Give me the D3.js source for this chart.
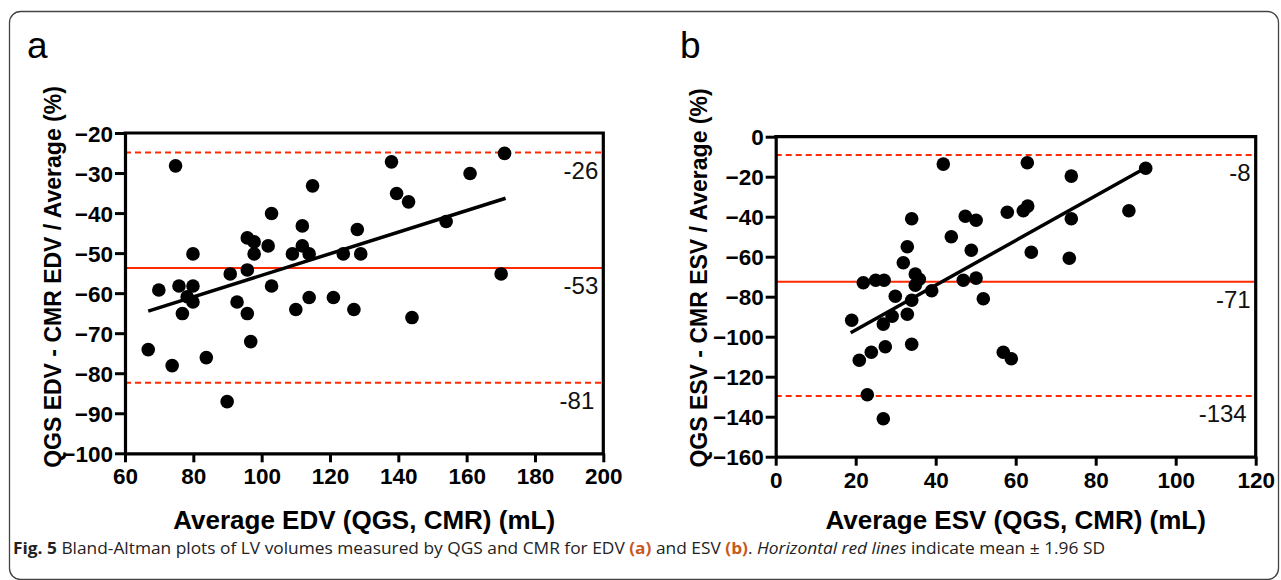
<!DOCTYPE html>
<html><head><meta charset="utf-8">
<script src="https://cdn.jsdelivr.net/npm/d3@7"></script>
<style>
html,body{margin:0;padding:0;background:#fff;}
svg{display:block;}
</style></head>
<body>
<svg id="c" width="1281" height="580"></svg>
<script>
// ---- Data ----
const edvX = [74.8,66.8,73.8,69.9,75.8,79.9,79.9,78.2,79.9,76.8,83.8,89.9,90.8,92.8,95.8,95.8,96.8,95.8,97.8,97.8,101.9,102.9,102.9,109,110,111.9,111.9,113.9,113.9,114.9,121,123.9,127,128,129,138,139.5,143,144,154,161,171.1,170.1];
const edvY = [-28.2,-74.1,-78.1,-59.2,-58.2,-58.2,-50.2,-60.9,-62.2,-65.1,-76.1,-87.1,-55.2,-62.2,-54.2,-65.1,-72.1,-46.2,-47.2,-50.2,-48.2,-40.1,-58.2,-50.2,-64.1,-43.2,-48.2,-50.2,-61.1,-33.2,-61.1,-50.2,-64.1,-44.1,-50.2,-27.2,-35.1,-37.2,-66.1,-42.1,-30.1,-25.1,-55.2];
const esvX = [41.9,62.9,73.9,92.5,88.3,73.9,73.4,63.9,57.9,61.9,63,47.4,50.1,43.9,48.9,34,32.9,31.9,34.9,35.9,34.9,21.9,25,27.1,46.9,50.1,39,51.9,29.9,34,19,29.1,26.9,32.9,20.9,23.9,27.4,34,22.9,26.9,56.9,58.9];
const esvY = [-13.7,-13,-19.7,-15.8,-37,-41,-60.8,-57.8,-37.8,-37,-34.7,-39.8,-41.8,-50,-56.8,-41,-55,-63,-68.7,-71.3,-74.3,-73,-71.8,-71.8,-71.8,-70.7,-77,-81,-79.8,-81.8,-91.8,-89.8,-93.7,-88.8,-111.8,-107.8,-105,-103.8,-129,-141,-107.8,-111];
const edvLimits = [-24.9,-53.7,-82.4];
const edvLimitLabels = ["-26","-53","-81"];
const esvLimits = [-9.2,-72.5,-129.7];
const esvLimitLabels = ["-8","-71","-134"];
const edvFitX = [66.8,171.4], edvFitY = [-64.5,-36.3];
const esvFitX = [18.75,92.3], esvFitY = [-98,-15.8];
const edvXTicks = [60,80,100,120,140,160,180,200];
const edvYTicks = [-100,-90,-80,-70,-60,-50,-40,-30,-20];
const esvXTicks = [0,20,40,60,80,100,120];
const esvYTicks = [-160,-140,-120,-100,-80,-60,-40,-20,0];

const svg = d3.select("#c");
const RED = "#ff2a00";
const FONT = "'Liberation Sans', Arial, Helvetica, sans-serif";

// outer frame
svg.append("rect").attr("x",9.5).attr("y",11.5).attr("width",1269).attr("height",568)
  .attr("rx",11).attr("fill","none").attr("stroke","#444").attr("stroke-width",1.3);

function panel(o){
  const g = svg.append("g");
  const x = d3.scaleLinear().domain(o.xDom).range(o.xRange);
  const y = d3.scaleLinear().domain(o.yDom).range(o.yRange);
  const [x0,x1] = o.xRange, [y0,y1] = o.yRange; // y0 bottom, y1 top

  // limits of agreement
  o.limits.forEach((v,i)=>{
    g.append("line").attr("x1",x0).attr("x2",x1).attr("y1",y(v)).attr("y2",y(v))
      .attr("stroke",RED).attr("stroke-width",2)
      .attr("stroke-dasharray", i===1 ? null : "6,4");
    g.append("text").attr("x",x1-5 - (i===2?o.lowShift:0)).attr("y",y(v)+26)
      .attr("text-anchor","end").attr("font-family",FONT).attr("font-size",24)
      .attr("fill","#111").text(o.labels[i]);
  });

  // points
  g.selectAll("circle.p").data(o.xs.map((d,i)=>[d,o.ys[i]])).enter().append("circle")
    .attr("cx",d=>x(d[0])).attr("cy",d=>y(d[1])).attr("r",6.8).attr("fill","#000");

  // regression
  g.append("line").attr("x1",x(o.fitX[0])).attr("y1",y(o.fitY[0]))
    .attr("x2",x(o.fitX[1])).attr("y2",y(o.fitY[1]))
    .attr("stroke","#000").attr("stroke-width",3.5);

  // axes
  const ax = g.append("g").attr("transform",`translate(0,${y0})`)
    .call(d3.axisBottom(x).tickValues(o.xTicks).tickSize(9).tickSizeOuter(0).tickPadding(4).tickFormat(d3.format("d")));
  const ay = g.append("g").attr("transform",`translate(${x0},0)`)
    .call(d3.axisLeft(y).tickValues(o.yTicks).tickSize(10).tickSizeOuter(0).tickPadding(2).tickFormat(d3.format("d")));
  [ax,ay].forEach(a=>{
    a.select(".domain").attr("stroke","#000").attr("stroke-width",3.2);
    a.selectAll(".tick line").attr("stroke","#000").attr("stroke-width",3);
    a.selectAll(".tick text").attr("font-family",FONT).attr("font-size",22.5)
      .attr("font-weight","bold").attr("fill","#000");
  });
  ax.selectAll(".tick text").attr("dy","0.8em");
  ay.selectAll(".tick text").attr("dy","0.36em");

  // box top/right
  g.append("path").attr("d",`M${x0-1.5},${y1}H${x1}V${y0+1.5}`)
    .attr("fill","none").attr("stroke","#000").attr("stroke-width",3.2);

  // titles
  g.append("text").attr("x",(x0+x1)/2).attr("y",529).attr("text-anchor","middle")
    .attr("font-family",FONT).attr("font-size",26).attr("font-weight","bold").text(o.xTitle);
  g.append("text").attr("transform",`translate(${o.yTitleX},${o.yTitleY}) rotate(-90)`)
    .attr("text-anchor","middle").attr("font-family",FONT).attr("font-size",23)
    .attr("font-weight","bold").text(o.yTitle);
  g.append("text").attr("x",o.letterX).attr("y",58).attr("font-family",FONT)
    .attr("font-size",37).text(o.letter);
}

panel({xDom:[60,200],xRange:[125,603.3],yDom:[-100,-20],yRange:[453.3,133],
  xs:edvX,ys:edvY,limits:edvLimits,labels:edvLimitLabels,lowShift:4,
  fitX:edvFitX,fitY:edvFitY,xTicks:edvXTicks,yTicks:edvYTicks,
  xTitle:"Average EDV (QGS, CMR) (mL)",yTitle:"QGS EDV - CMR EDV / Average (%)",
  yTitleX:61,yTitleY:277,letter:"a",letterX:27});

panel({xDom:[0,120],xRange:[775.7,1255.7],yDom:[-160,0],yRange:[456.7,136.7],
  xs:esvX,ys:esvY,limits:esvLimits,labels:esvLimitLabels,lowShift:4,
  fitX:esvFitX,fitY:esvFitY,xTicks:esvXTicks,yTicks:esvYTicks,
  xTitle:"Average ESV (QGS, CMR) (mL)",yTitle:"QGS ESV - CMR ESV / Average (%)",
  yTitleX:707,yTitleY:278,letter:"b",letterX:680});

// caption
const cap = svg.append("text").attr("x",13).attr("y",554)
  .attr("font-family","'Open Sans', 'Noto Sans', sans-serif").attr("font-size",16.5).attr("fill","#222")
  .attr("textLength",1092).attr("lengthAdjust","spacingAndGlyphs");
const BR = "#c65a1e";
const parts = [
  ["Fig. 5","bold",null,"normal"],
  [" Bland-Altman plots of LV volumes measured by QGS and CMR for EDV ","normal",null,"normal"],
  ["(a)","bold",BR,"normal"],
  [" and ESV ","normal",null,"normal"],
  ["(b)","bold",BR,"normal"],
  [". ","normal",null,"normal"],
  ["Horizontal red lines","normal",null,"italic"],
  [" indicate mean \u00b1 1.96 SD","normal",null,"normal"]
];
parts.forEach(p=>{
  const t = cap.append("tspan").attr("font-weight",p[1]).attr("font-style",p[3]).text(p[0]);
  if(p[2]) t.attr("fill",p[2]);
});
</script>
</body></html>
